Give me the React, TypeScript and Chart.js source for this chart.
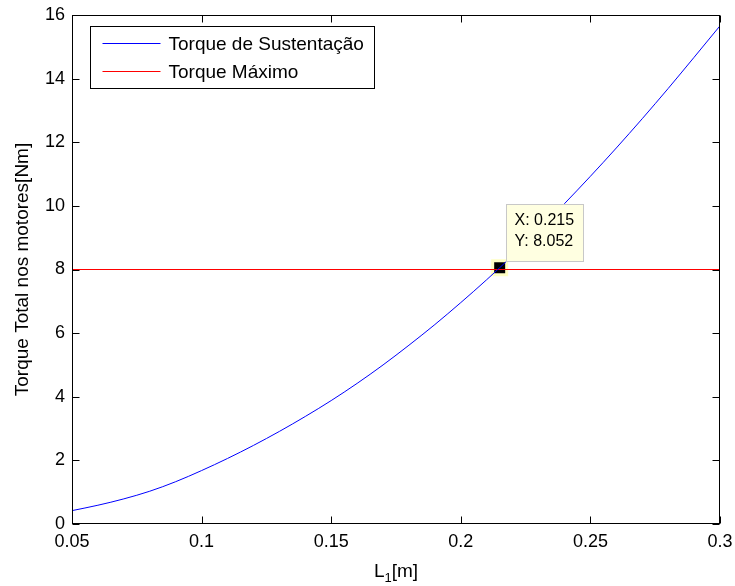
import React, { useEffect, useRef } from "react";
import Chart from "chart.js/auto";

// ---- data ----
const xValues = [
  0.05, 0.06, 0.07, 0.08, 0.09, 0.1, 0.11, 0.12, 0.13, 0.14, 0.15, 0.16, 0.17,
  0.18, 0.19, 0.2, 0.21, 0.22, 0.23, 0.24, 0.25, 0.26, 0.27, 0.28, 0.29, 0.3,
];
const torqueSustentacao = [
  0.42, 0.59, 0.79, 1.03, 1.33, 1.68, 2.06, 2.47, 2.91, 3.38, 3.88, 4.42, 5.0,
  5.62, 6.27, 6.96, 7.68, 8.44, 9.24, 10.07, 10.93, 11.82, 12.74, 13.69, 14.67,
  15.66,
];
const torqueMaxX = [0.05, 0.3];
const torqueMaxY = [8, 8];
const seriesLabels = ["Torque de Sustentação", "Torque Máximo"];
const seriesColors = ["#0000ff", "#ff0000"];

const tipX = 0.215;
const tipY = 8.052;
const tipLabels = ["X: 0.215", "Y: 8.052"];

const xTicks = [0.05, 0.1, 0.15, 0.2, 0.25, 0.3];
const xTickLabels = ["0.05", "0.1", "0.15", "0.2", "0.25", "0.3"];
const yTicks = [0, 2, 4, 6, 8, 10, 12, 14, 16];
const yTickLabels = ["0", "2", "4", "6", "8", "10", "12", "14", "16"];

const xTitleMain = "L";
const xTitleSub = "1";
const xTitleRest = "[m]";
const yTitle = "Torque Total nos motores[Nm]";

const FONT = "'Liberation Sans', Arial, Helvetica, sans-serif";

const matlabPlugin = {
  id: "matlabDecor",
  afterDatasetsDraw(chart: any) {
    const { ctx, chartArea, scales } = chart;
    const xs = scales.x;
    const ys = scales.y;
    const L = Math.round(chartArea.left) + 0.5;
    const R = Math.round(chartArea.right) - 0.5;
    const T = Math.round(chartArea.top) + 0.5;
    const B = Math.round(chartArea.bottom) - 0.5;
    ctx.save();

    // data tip box
    const px = xs.getPixelForValue(tipX);
    const py = ys.getPixelForValue(tipY);
    ctx.font = `16px ${FONT}`;
    const tw = Math.max(...tipLabels.map((t) => ctx.measureText(t).width));
    const bl = Math.round(px + 6) + 0.5;
    const bb = Math.round(py - 7) + 0.5;
    const bw = Math.round(tw + 17);
    const bh = 57;
    ctx.fillStyle = "#ffffe1";
    ctx.fillRect(bl, bb - bh, bw, bh);
    ctx.strokeStyle = "#c8c8c8";
    ctx.lineWidth = 1;
    ctx.strokeRect(bl, bb - bh, bw, bh);
    ctx.fillStyle = "#000";
    ctx.textBaseline = "middle";
    ctx.textAlign = "left";
    tipLabels.forEach((t, i) => {
      ctx.fillText(t, bl + 8, bb - bh + 16 + i * 21);
    });

    // frame
    ctx.strokeStyle = "#000";
    ctx.lineWidth = 1;
    ctx.strokeRect(L, T, R - L, B - T);

    // inward ticks on all four sides
    const tl = 7;
    ctx.beginPath();
    xTicks.forEach((v) => {
      const x = Math.round(xs.getPixelForValue(v)) + 0.5;
      ctx.moveTo(x, B);
      ctx.lineTo(x, B - tl);
      ctx.moveTo(x, T);
      ctx.lineTo(x, T + tl);
    });
    yTicks.forEach((v) => {
      const y = Math.round(ys.getPixelForValue(v)) + 0.5;
      ctx.moveTo(L, y);
      ctx.lineTo(L + tl, y);
      ctx.moveTo(R, y);
      ctx.lineTo(R - tl, y);
    });
    ctx.stroke();

    // legend
    ctx.font = `19px ${FONT}`;
    const lw = Math.max(...seriesLabels.map((t) => ctx.measureText(t).width));
    const lx = Math.round(chartArea.left + 18) + 0.5;
    const ly = Math.round(chartArea.top + 11) + 0.5;
    const lWidth = Math.round(78 + lw + 11);
    const lHeight = 62;
    ctx.fillStyle = "#fff";
    ctx.fillRect(lx, ly, lWidth, lHeight);
    ctx.strokeStyle = "#000";
    ctx.strokeRect(lx, ly, lWidth, lHeight);
    seriesLabels.forEach((t, i) => {
      const ry = Math.round(ly + 16 + i * 28.7) + 0.5;
      ctx.strokeStyle = seriesColors[i];
      ctx.beginPath();
      ctx.moveTo(lx + 12, ry);
      ctx.lineTo(lx + 70, ry);
      ctx.stroke();
      ctx.fillStyle = "#000";
      ctx.textBaseline = "middle";
      ctx.textAlign = "left";
      ctx.fillText(t, lx + 78, ry + 1);
    });

    // x axis title with subscript
    const mainFont = `19px ${FONT}`;
    const subFont = `13px ${FONT}`;
    ctx.font = mainFont;
    const w1 = ctx.measureText(xTitleMain).width;
    const w3 = ctx.measureText(xTitleRest).width;
    ctx.font = subFont;
    const w2 = ctx.measureText(xTitleSub).width;
    const total = w1 + w2 + w3;
    const cx = (chartArea.left + chartArea.right) / 2;
    let tx = cx - total / 2;
    const baseY = 577;
    ctx.textBaseline = "alphabetic";
    ctx.fillStyle = "#000";
    ctx.font = mainFont;
    ctx.fillText(xTitleMain, tx, baseY);
    tx += w1;
    ctx.font = subFont;
    ctx.fillText(xTitleSub, tx, baseY + 5);
    tx += w2;
    ctx.font = mainFont;
    ctx.fillText(xTitleRest, tx, baseY);

    ctx.restore();
  },
};

export default function App() {
  const ref = useRef<HTMLCanvasElement | null>(null);

  useEffect(() => {
    document.body.style.margin = "0";
    const canvas = ref.current;
    if (!canvas) return;
    const blue = xValues.map((x, i) => ({ x, y: torqueSustentacao[i] }));
    const red = torqueMaxX.map((x, i) => ({ x, y: torqueMaxY[i] }));
    const chart = new Chart(canvas, {
      type: "scatter",
      data: {
        datasets: [
          {
            label: seriesLabels[0],
            data: blue,
            showLine: true,
            borderColor: seriesColors[0],
            borderWidth: 1,
            pointRadius: 0,
            cubicInterpolationMode: "monotone",
          },
          {
            label: seriesLabels[1],
            data: red,
            showLine: true,
            borderColor: seriesColors[1],
            borderWidth: 1,
            pointRadius: 0,
          },
          {
            label: "tip",
            data: [{ x: tipX, y: tipY }],
            showLine: false,
            pointStyle: "rect",
            pointRadius: 9.9,
            backgroundColor: "#000000",
            borderColor: "#ffffc4",
            borderWidth: 3,
          },
        ],
      },
      options: {
        responsive: false,
        animation: false,
        devicePixelRatio: 1,
        layout: { padding: { left: 0, right: 15, top: 15, bottom: 0 } },
        plugins: {
          legend: { display: false },
          tooltip: { enabled: false },
        },
        events: [],
        scales: {
          x: {
            type: "linear",
            min: 0.05,
            max: 0.3,
            grid: { display: false, drawTicks: false },
            border: { display: false },
            afterBuildTicks: (s: any) => {
              s.ticks = xTicks.map((v) => ({ value: v }));
            },
            afterFit: (s: any) => {
              s.height = 62;
              s.paddingLeft = 0;
              s.paddingRight = 0;
            },
            ticks: {
              color: "#000",
              padding: 7,
              maxRotation: 0,
              autoSkip: false,
              font: { family: FONT, size: 18 },
              callback: (_v: any, i: number) => xTickLabels[i],
            },
          },
          y: {
            type: "linear",
            min: 0,
            max: 16,
            grid: { display: false, drawTicks: false },
            border: { display: false },
            afterBuildTicks: (s: any) => {
              s.ticks = yTicks.map((v) => ({ value: v }));
            },
            afterFit: (s: any) => {
              s.width = 72;
              s.paddingTop = 0;
              s.paddingBottom = 0;
            },
            ticks: {
              color: "#000",
              padding: 7,
              autoSkip: false,
              font: { family: FONT, size: 18 },
              callback: (_v: any, i: number) => yTickLabels[i],
            },
            title: {
              display: true,
              text: yTitle,
              color: "#000",
              font: { family: FONT, size: 19 },
              padding: { top: 11, bottom: 0 },
            },
          },
        },
      },
      plugins: [matlabPlugin],
    });
    return () => chart.destroy();
  }, []);

  return (
    <div style={{ position: "absolute", left: 0, top: 0, width: 735, height: 586 }}>
      <canvas ref={ref} width={735} height={586} />
    </div>
  );
}
